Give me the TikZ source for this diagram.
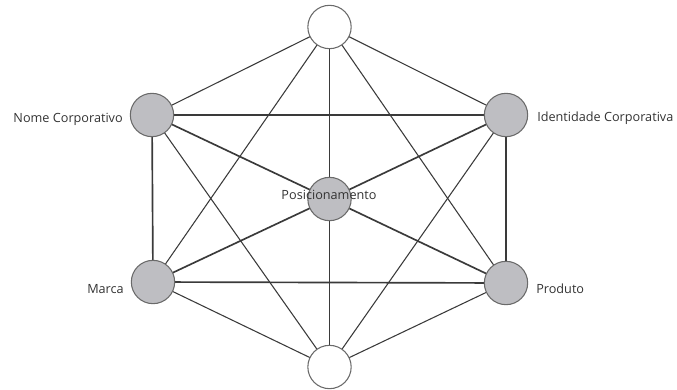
\documentclass[tikz,border=0pt]{standalone}
\usepackage{fontspec}
\setmainfont{Open Sans}
\usetikzlibrary{backgrounds}
\definecolor{nodegray}{HTML}{BEBEC2}
\definecolor{rimgray}{HTML}{6A6A6A}
\definecolor{edgecol}{HTML}{3A3A3A}
\definecolor{txtcol}{HTML}{333333}
\begin{document}
\begin{tikzpicture}[x=0.75pt,y=-0.75pt,
  graynode/.style={circle,draw=rimgray,line width=0.8pt,fill=nodegray,minimum size=32.5pt,inner sep=0pt},
  whitenode/.style={circle,draw=rimgray,line width=0.8pt,fill=white,minimum size=32.5pt,inner sep=0pt},
  thinedge/.style={draw=edgecol,line width=0.8pt},
  thickedge/.style={draw=edgecol,line width=1.25pt},
  lbl/.style={font=\fontsize{9.5}{11}\selectfont,text=txtcol,inner sep=0pt}]
\useasboundingbox (0,0) rectangle (677,389);
\node[whitenode] (top) at (329.5,27) {};
\node[graynode] (nome) at (152,115) {};
\node[graynode] (ident) at (506,115) {};
\node[graynode] (pos) at (329.5,199) {};
\node[graynode] (marca) at (153,282) {};
\node[graynode] (prod) at (506,283) {};
\node[whitenode] (bot) at (329.5,367) {};
\begin{scope}[on background layer]
% thin edges to white nodes
\path[thinedge] (top.center) -- (nome.center);
\path[thinedge] (top.center) -- (ident.center);
\path[thinedge] (top.center) -- (pos.center);
\path[thinedge] (top.center) -- (marca.center);
\path[thinedge] (top.center) -- (prod.center);
\path[thinedge] (bot.center) -- (nome.center);
\path[thinedge] (bot.center) -- (ident.center);
\path[thinedge] (bot.center) -- (pos.center);
\path[thinedge] (bot.center) -- (marca.center);
\path[thinedge] (bot.center) -- (prod.center);
% thick edges among gray nodes
\path[thickedge] (nome.center) -- (ident.center);
\path[thickedge] (nome.center) -- (marca.center);
\path[thickedge] (ident.center) -- (prod.center);
\path[thickedge] (marca.center) -- (prod.center);
\path[thickedge] (nome.center) -- (pos.center);
\path[thickedge] (pos.center) -- (prod.center);
\path[thickedge] (ident.center) -- (pos.center);
\path[thickedge] (pos.center) -- (marca.center);
\end{scope}
% labels
\node[lbl,anchor=east] (lnome) at (123,119) {Nome Corporativo};
\node[lbl,anchor=west] (lident) at (537,118) {Identidade Corporativa};
\node[lbl] (lpos) at (329,195) {Posicionamento};
\node[lbl,anchor=east] (lmarca) at (124,289) {Marca};
\node[lbl,anchor=west] (lprod) at (536,289) {Produto};
\end{tikzpicture}
\end{document}
